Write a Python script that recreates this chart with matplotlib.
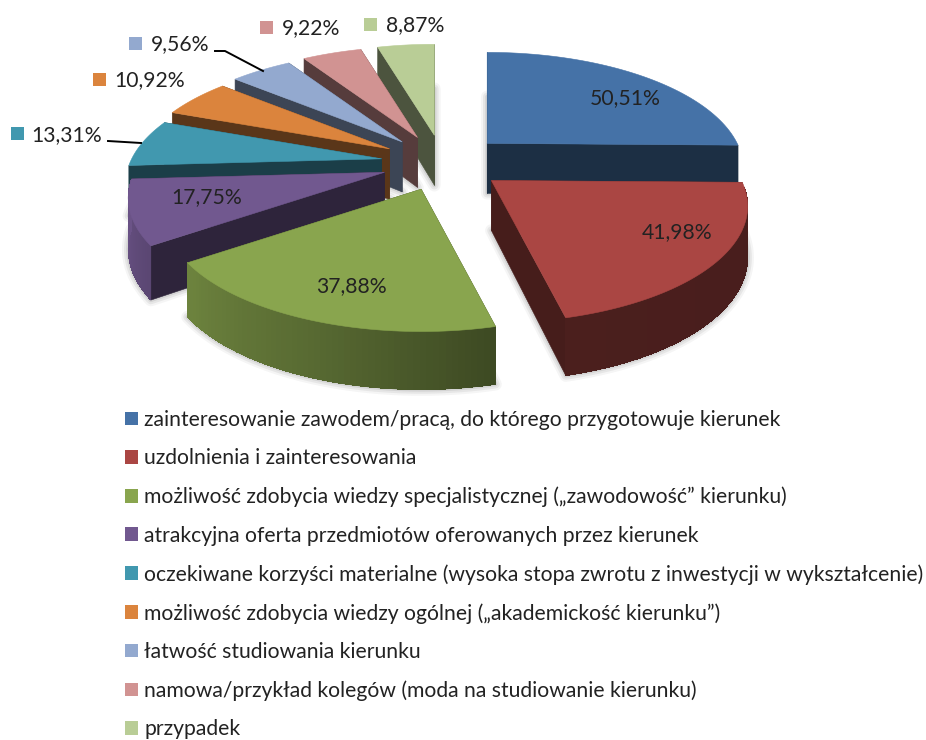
import matplotlib
matplotlib.use('Agg')
import matplotlib.pyplot as plt
from matplotlib.patches import Polygon, Patch, Rectangle
import numpy as np

values = [50.51, 41.98, 37.88, 17.75, 13.31, 10.92, 9.56, 9.22, 8.87]
value_labels = ['50,51%', '41,98%', '37,88%', '17,75%', '13,31%', '10,92%', '9,56%', '9,22%', '8,87%']
categories = [
    'zainteresowanie zawodem/pracą, do którego przygotowuje kierunek',
    'uzdolnienia i zainteresowania',
    'możliwość zdobycia wiedzy specjalistycznej (\u201ezawodowość\u201d kierunku)',
    'atrakcyjna oferta przedmiotów oferowanych przez kierunek',
    'oczekiwane korzyści materialne (wysoka stopa zwrotu z inwestycji w wykształcenie)',
    'możliwość zdobycia wiedzy ogólnej (\u201eakademickość kierunku\u201d)',
    'łatwość studiowania kierunku',
    'namowa/przykład kolegów (moda na studiowanie kierunku)',
    'przypadek',
]
colors = ['#4572A7', '#AA4643', '#89A54E', '#71588F', '#4198AF', '#DB843D', '#93A9CF', '#D19392', '#B9CD96']

# where the labels sit, in image pixels
label_pos = [(625, 98), (677, 232), (351, 286), (207, 197), (67, 135), (150, 80), (180, 44), (311, 28), (415, 25)]
key_pos = [(575, 98), (625, 231), (303, 286), (157, 197), (17, 133), (99, 79), (135, 43), (266, 27), (370, 24)]

plt.rcParams['font.family'] = ['Lato', 'DejaVu Sans']
TEXT = '#222222'

# pie geometry in image pixels
CX, CY = 443, 163
EXP_X, EXP_Y = 62, 28
RX, RY = 250, 111
K = 0.22
H = 50


def shade(color, f):
    r = np.array(matplotlib.colors.to_rgb(color))
    return tuple(r * f)


def wall_shade(a):
    return np.interp(a, [-270, -177, -145, -110, -76, 0], [0.95, 0.95, 0.8, 0.64, 0.44, 0.42])


def project(apex, a, r=1.0):
    # perspective: the far side of the pie is squeezed
    u = r * np.cos(np.radians(a))
    v = r * np.sin(np.radians(a))
    d = 1 + K * v
    return np.array([apex[0] + RX * u / d, apex[1] - RY * v / d]), d


def drop(p, d):
    return np.array([p[0], p[1] + H / d ** 0.6])


fig = plt.figure(figsize=(9.26, 7.4), dpi=100)
ax = fig.add_axes([0, 0, 1, 1])
ax.set_xlim(0, 926)
ax.set_ylim(740, 0)
ax.axis('off')

total = sum(values)
stops = 90 - np.concatenate([[0], np.cumsum(values)]) / total * 360

slices = []
for i, col in enumerate(colors):
    a0, a1 = stops[i], stops[i + 1]
    mid = np.radians((a0 + a1) / 2)
    apex = (CX + EXP_X * np.cos(mid), CY - EXP_Y * np.sin(mid))
    angs = np.linspace(a0, a1, 60)
    top = [project(apex, a) for a in angs]
    arc_top = [t[0] for t in top]
    arc_bot = [drop(t[0], t[1]) for t in top]
    apex_bot = drop(np.array(apex), 1.0)
    slices.append(dict(col=col, apex=np.array(apex), apex_bot=apex_bot, angs=angs,
                       arc_top=arc_top, arc_bot=arc_bot))

# soft shadows first so they only show on the white background
for s in slices:
    pts = [s['apex_bot']] + s['arc_bot']
    for lw, al in ((9, 0.06), (6, 0.09), (3, 0.12)):
        ax.add_patch(Polygon(pts, closed=True, fc='none', ec='#555555', lw=lw, alpha=al,
                             joinstyle='round', zorder=1))

order = [8, 7, 6, 5, 4, 3, 0, 1, 2]
z = 2
for i in order:
    s = slices[i]
    col = s['col']
    # cut faces go under the outer wall and the top
    dark = shade(col, 0.41)
    for e in (0, -1):
        q = [s['apex'], s['arc_top'][e], s['arc_bot'][e], s['apex_bot']]
        ax.add_patch(Polygon(q, closed=True, fc=dark, ec=dark, lw=0.4, zorder=z))
    # outer wall: solid base, then strips for the gradient; the far rim is not seen
    seen = [j for j in range(len(s['angs']) - 1)
            if np.sin(np.radians((s['angs'][j] + s['angs'][j + 1]) / 2)) <= -0.07]
    if seen:
        idx = seen + [seen[-1] + 1]
        base = [s['arc_top'][j] for j in idx] + [s['arc_bot'][j] for j in idx[::-1]]
        c = shade(col, wall_shade(s['angs'][idx[len(idx) // 2]]))
        ax.add_patch(Polygon(base, closed=True, fc=c, ec=c, lw=0.4, zorder=z))
    for j in seen:
        q = [s['arc_top'][j], s['arc_top'][j + 1], s['arc_bot'][j + 1], s['arc_bot'][j]]
        c = shade(col, wall_shade((s['angs'][j] + s['angs'][j + 1]) / 2))
        ax.add_patch(Polygon(q, closed=True, fc=c, ec='none', lw=0, antialiased=False, zorder=z))
    ax.add_patch(Polygon([s['apex']] + s['arc_top'], closed=True, fc=col, ec=col, lw=0.4, zorder=z))
    z += 1

# leader lines
ax.plot([215, 225, 263], [51, 51, 71], color='black', lw=1.4, zorder=20)
ax.plot([108, 141], [141, 143], color='black', lw=1.4, zorder=20)

# data labels with their small colour keys
for i, lab in enumerate(value_labels):
    x, y = label_pos[i]
    ax.text(x, y, lab, ha='center', va='center', fontsize=15.2, color=TEXT, zorder=30)
    kx, ky = key_pos[i]
    ax.add_patch(Rectangle((kx - 6.5, ky - 6.5), 13, 13, fc=colors[i], ec='none', alpha=1.0 if i > 3 else 0.12,
                           zorder=25))

handles = [Patch(fc=c, ec='none', label=n) for c, n in zip(colors, categories)]
ax.legend(handles=handles, loc='upper left', bbox_to_anchor=(125, 410), bbox_transform=ax.transData,
          frameon=False, fontsize=15.2, labelcolor=TEXT, borderpad=0, borderaxespad=0,
          handlelength=0.62, handleheight=0.62, handletextpad=0.28, labelspacing=0.87)

plt.savefig('out.png', dpi=100)
